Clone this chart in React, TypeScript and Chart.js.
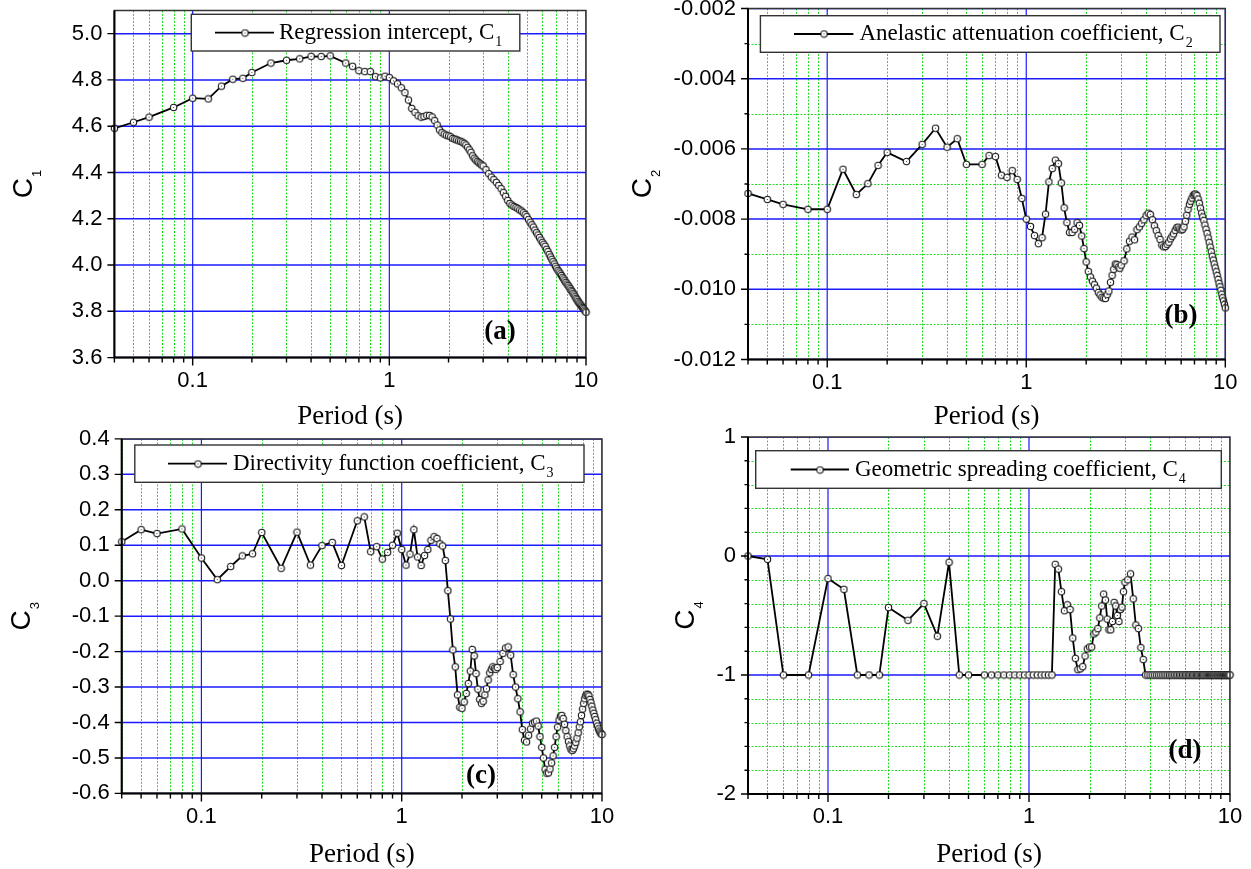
import React, { useEffect, useRef } from 'react';
import { Chart, registerables } from 'chart.js';

Chart.register(...registerables);

// ---------------- data ----------------
const PERIODS = [
  0.04, 0.05, 0.06, 0.08, 0.1, 0.12, 0.14, 0.16, 0.18, 0.2, 0.25, 0.3, 0.35, 0.4, 0.45, 0.5,
  0.6, 0.65, 0.7, 0.75, 0.8, 0.85, 0.9, 0.95, 1.0,
  1.05, 1.1, 1.15, 1.2, 1.25, 1.3, 1.35, 1.4, 1.45, 1.5, 1.55, 1.6, 1.65, 1.7, 1.75, 1.8, 1.85, 1.9, 1.95, 2.0,
  2.05, 2.1, 2.15, 2.2, 2.25, 2.3, 2.35, 2.4, 2.45, 2.5, 2.55, 2.6, 2.65, 2.7, 2.75, 2.8, 2.85, 2.9, 2.95, 3.0,
  3.1, 3.2, 3.3, 3.4, 3.5, 3.6, 3.7, 3.8, 3.9, 4.0,
  4.1, 4.2, 4.3, 4.4, 4.5, 4.6, 4.7, 4.8, 4.9, 5.0,
  5.1, 5.2, 5.3, 5.4, 5.5, 5.6, 5.7, 5.8, 5.9, 6.0,
  6.1, 6.2, 6.3, 6.4, 6.5, 6.6, 6.7, 6.8, 6.9, 7.0,
  7.1, 7.2, 7.3, 7.4, 7.5, 7.6, 7.7, 7.8, 7.9, 8.0,
  8.1, 8.2, 8.3, 8.4, 8.5, 8.6, 8.7, 8.8, 8.9, 9.0,
  9.1, 9.2, 9.3, 9.4, 9.5, 9.6, 9.7, 9.8, 9.9, 10.0,
];

const C1 = [
  4.591, 4.617, 4.639, 4.681, 4.721, 4.718, 4.773, 4.803, 4.807, 4.832, 4.873, 4.885, 4.891, 4.902, 4.901, 4.904,
  4.873, 4.859, 4.840, 4.836, 4.836, 4.814, 4.809, 4.816, 4.810,
  4.796, 4.783, 4.766, 4.745, 4.713, 4.677, 4.660, 4.645, 4.639, 4.642, 4.647, 4.646, 4.640, 4.624, 4.605, 4.584, 4.572, 4.566, 4.561, 4.558,
  4.554, 4.547, 4.544, 4.541, 4.537, 4.535, 4.531, 4.526, 4.519, 4.509, 4.498, 4.487, 4.472, 4.462, 4.454, 4.447, 4.442, 4.437, 4.432, 4.428,
  4.412, 4.395, 4.380, 4.369, 4.357, 4.344, 4.330, 4.313, 4.297, 4.279,
  4.266, 4.259, 4.253, 4.249, 4.244, 4.238, 4.233, 4.226, 4.218, 4.209,
  4.196, 4.185, 4.174, 4.164, 4.151, 4.140, 4.130, 4.119, 4.108, 4.098,
  4.090, 4.081, 4.068, 4.058, 4.046, 4.035, 4.025, 4.015, 4.005, 3.995,
  3.986, 3.977, 3.970, 3.962, 3.955, 3.947, 3.940, 3.932, 3.925, 3.918,
  3.912, 3.905, 3.898, 3.891, 3.885, 3.878, 3.871, 3.863, 3.856, 3.850,
  3.843, 3.837, 3.832, 3.827, 3.822, 3.817, 3.812, 3.806, 3.801, 3.796,
];

const C2 = [
  -0.00727, -0.00744, -0.00758, -0.00772, -0.00772, -0.00658, -0.0073, -0.00699, -0.00647, -0.0061, -0.00636, -0.00587, -0.00541, -0.00595, -0.00571, -0.00644,
  -0.00644, -0.00619, -0.00622, -0.00675, -0.00681, -0.00662, -0.00687, -0.00741, -0.008,
  -0.00821, -0.00847, -0.0087, -0.00853, -0.00786, -0.00694, -0.00656, -0.00632, -0.00642, -0.00697, -0.00768, -0.0081, -0.00838, -0.00838, -0.00829, -0.0081, -0.00818, -0.00848, -0.00884, -0.00922,
  -0.00949, -0.00965, -0.00977, -0.00987, -0.00997, -0.01009, -0.01016, -0.01023, -0.01025, -0.01026, -0.01015, -0.01005, -0.0098, -0.0096, -0.00943, -0.00928, -0.0093, -0.00937, -0.0094, -0.00931,
  -0.00919, -0.00885, -0.00863, -0.00851, -0.00859, -0.0083, -0.00822, -0.00812, -0.00802, -0.0079,
  -0.00783, -0.00787, -0.00802, -0.00819, -0.00833, -0.00847, -0.00858, -0.00874, -0.00879, -0.00878,
  -0.00872, -0.00866, -0.00856, -0.00849, -0.00842, -0.00832, -0.00824, -0.00823, -0.00828, -0.00831,
  -0.00829, -0.00822, -0.00806, -0.00789, -0.00772, -0.00758, -0.00749, -0.0074, -0.00732, -0.00729,
  -0.00729, -0.00733, -0.00743, -0.00755, -0.00769, -0.00783, -0.00794, -0.00804, -0.00817, -0.00829,
  -0.00841, -0.00854, -0.00867, -0.0088, -0.00893, -0.00906, -0.00917, -0.00928, -0.00939, -0.0095,
  -0.00961, -0.00972, -0.00983, -0.00993, -0.01003, -0.01014, -0.01024, -0.01033, -0.01043, -0.01053,
];

const C3 = [
  0.110, 0.144, 0.133, 0.146, 0.064, 0.003, 0.040, 0.070, 0.076, 0.136, 0.035, 0.137, 0.044, 0.099, 0.108, 0.043,
  0.169, 0.180, 0.082, 0.096, 0.061, 0.080, 0.100, 0.134, 0.088,
  0.044, 0.075, 0.144, 0.067, 0.043, 0.071, 0.088, 0.114, 0.124, 0.119, 0.104, 0.098, 0.057, -0.028, -0.108, -0.195, -0.243, -0.322, -0.357, -0.360,
  -0.342, -0.318, -0.290, -0.255, -0.194, -0.212, -0.262, -0.306, -0.335, -0.346, -0.340, -0.322, -0.305, -0.280, -0.260, -0.250, -0.243, -0.247, -0.250, -0.245,
  -0.228, -0.205, -0.190, -0.187, -0.210, -0.265, -0.300, -0.333, -0.370, -0.420,
  -0.450, -0.455, -0.436, -0.418, -0.402, -0.399, -0.396, -0.410, -0.440, -0.470,
  -0.500, -0.532, -0.543, -0.542, -0.531, -0.514, -0.494, -0.470, -0.440, -0.413,
  -0.393, -0.382, -0.380, -0.389, -0.405, -0.423, -0.440, -0.454, -0.466, -0.476,
  -0.479, -0.474, -0.466, -0.456, -0.444, -0.429, -0.412, -0.398, -0.380, -0.362,
  -0.346, -0.333, -0.324, -0.320, -0.321, -0.325, -0.335, -0.344, -0.354, -0.365,
  -0.374, -0.383, -0.392, -0.402, -0.410, -0.418, -0.424, -0.429, -0.432, -0.434,
];

const C4 = [
  0.0, -0.028, -1, -1, -0.19, -0.28, -1, -1, -1, -0.433, -0.54, -0.40, -0.674, -0.053, -1, -1,
  -1, -1, -1, -1, -1, -1, -1, -1, -1,
  -1, -1, -1, -1, -1, -1, -0.07, -0.11, -0.30, -0.46, -0.41, -0.45, -0.69, -0.86, -0.955, -0.948, -0.93, -0.84, -0.78, -0.765,
  -0.765, -0.655, -0.64, -0.61, -0.52, -0.42, -0.32, -0.37, -0.53, -0.62, -0.62, -0.55, -0.39, -0.42, -0.50, -0.55, -0.45, -0.43, -0.30, -0.22,
  -0.20, -0.15, -0.36, -0.58, -0.61, -0.77, -0.87, -1, -1, -1,
  -1, -1, -1, -1, -1, -1, -1, -1, -1, -1,
  -1, -1, -1, -1, -1, -1, -1, -1, -1, -1,
  -1, -1, -1, -1, -1, -1, -1, -1, -1, -1,
  -1, -1, -1, -1, -1, -1, -1, -1, -1, -1,
  -1, -1, -1, -1, -1, -1, -1, -1, -1, -1,
  -1, -1, -1, -1, -1, -1, -1, -1, -1, -1,
];

// tick values
const X_LABEL_TICKS = [0.1, 1, 10];
const X_MINOR = [0.04, 0.05, 0.06, 0.07, 0.08, 0.09, 0.2, 0.3, 0.4, 0.5, 0.6, 0.7, 0.8, 0.9, 2, 3, 4, 5, 6, 7, 8, 9];
const Y_TICKS_A = [3.6, 3.8, 4.0, 4.2, 4.4, 4.6, 4.8, 5.0];
const Y_TICKS_B = [-0.012, -0.010, -0.008, -0.006, -0.004, -0.002];
const Y_MINOR_B = [-0.011, -0.009, -0.007, -0.005, -0.003];
const Y_TICKS_C = [-0.6, -0.5, -0.4, -0.3, -0.2, -0.1, 0.0, 0.1, 0.2, 0.3, 0.4];
const Y_TICKS_D = [-2, -1, 0, 1];
const Y_MINOR_D = [-1.8, -1.6, -1.4, -1.2, -0.8, -0.6, -0.4, -0.2, 0.2, 0.4, 0.6, 0.8];

const X_TITLE = 'Period (s)';

// ---------------- styles ----------------
const SANS = '"Liberation Sans", Arial, Helvetica, sans-serif';
const SERIF = '"Liberation Serif", "Times New Roman", Times, serif';
const BLUE = '#1a1aff';
const GREEN = '#22dd22';
const X_AXIS_H = 45;

type Panel = {
  key: string;
  data: number[];
  yMin: number;
  yMax: number;
  yTicks: number[];
  yMinor: number[];
  decimals: number;
  canvas: { left: number; top: number; width: number; height: number };
  plot: { left: number; top: number; right: number; bottom: number };
  legend: { box: number[]; line: number[]; textX: number; text: string; sub: string };
  yTitle: { x: number; sub: string };
  tag: { text: string; x: number; y: number };
  xTitleY: number;
};

const PANELS: Panel[] = [
  {
    key: 'a', data: C1, yMin: 3.6, yMax: 5.1, yTicks: Y_TICKS_A, yMinor: [], decimals: 1,
    canvas: { left: 0, top: 0, width: 625, height: 440 },
    plot: { left: 114.4, top: 10.5, right: 586, bottom: 357.6 },
    legend: { box: [191.3, 14.3, 519.8, 51], line: [215, 274], textX: 279, text: 'Regression intercept, C', sub: '1' },
    yTitle: { x: 31.7, sub: '1' },
    tag: { text: '(a)', x: 500, y: 332 },
    xTitleY: 417,
  },
  {
    key: 'b', data: C2, yMin: -0.012, yMax: -0.002, yTicks: Y_TICKS_B, yMinor: Y_MINOR_B, decimals: 3,
    canvas: { left: 625, top: 0, width: 626, height: 440 },
    plot: { left: 748, top: 8.5, right: 1225.3, bottom: 359.5 },
    legend: { box: [760.4, 15.7, 1220, 52.3], line: [794, 853.4], textX: 859.4, text: 'Anelastic attenuation coefficient, C', sub: '2' },
    yTitle: { x: 650.5, sub: '2' },
    tag: { text: '(b)', x: 1181, y: 316 },
    xTitleY: 417,
  },
  {
    key: 'c', data: C3, yMin: -0.6, yMax: 0.4, yTicks: Y_TICKS_C, yMinor: [], decimals: 1,
    canvas: { left: 0, top: 425, width: 625, height: 444 },
    plot: { left: 121.7, top: 438.9, right: 602, bottom: 793.4 },
    legend: { box: [134.8, 445, 584, 482.3], line: [168, 227], textX: 233, text: 'Directivity function coefficient, C', sub: '3' },
    yTitle: { x: 30, sub: '3' },
    tag: { text: '(c)', x: 481, y: 776 },
    xTitleY: 855,
  },
  {
    key: 'd', data: C4, yMin: -2, yMax: 1, yTicks: Y_TICKS_D, yMinor: Y_MINOR_D, decimals: 0,
    canvas: { left: 625, top: 425, width: 626, height: 444 },
    plot: { left: 748, top: 437, right: 1230, bottom: 794 },
    legend: { box: [755.7, 450.7, 1221.3, 488.3], line: [790.7, 849], textX: 855, text: 'Geometric spreading coefficient, C', sub: '4' },
    yTitle: { x: 694, sub: '4' },
    tag: { text: '(d)', x: 1185, y: 751 },
    xTitleY: 855,
  },
];

function makeMarker(): HTMLCanvasElement {
  const m = document.createElement('canvas');
  m.width = 9;
  m.height = 9;
  const c = m.getContext('2d')!;
  c.beginPath();
  c.arc(4.5, 4.5, 3.2, 0, Math.PI * 2);
  c.fillStyle = '#ffffff';
  c.fill();
  c.lineWidth = 1.1;
  c.strokeStyle = '#111';
  c.stroke();
  c.fillStyle = '#444';
  c.fillRect(4, 4, 1, 1);
  return m;
}

function makePlugin(p: Panel) {
  return {
    id: 'panelDecor_' + p.key,
    beforeDatasetsDraw(chart: any) {
      const { ctx, chartArea: a, scales } = chart;
      const xs = scales.x;
      const ys = scales.y;
      ctx.save();
      ctx.beginPath();
      ctx.rect(a.left, a.top, a.right - a.left, a.bottom - a.top);
      ctx.clip();
      // minor grid (green dotted)
      ctx.strokeStyle = GREEN;
      ctx.lineWidth = 1;
      ctx.setLineDash([2, 1.5]);
      ctx.beginPath();
      for (const v of X_MINOR) {
        const px = Math.round(xs.getPixelForValue(v)) + 0.5;
        ctx.moveTo(px, a.top);
        ctx.lineTo(px, a.bottom);
      }
      for (const v of p.yMinor) {
        const py = Math.round(ys.getPixelForValue(v)) + 0.5;
        ctx.moveTo(a.left, py);
        ctx.lineTo(a.right, py);
      }
      ctx.stroke();
      ctx.setLineDash([]);
      // major grid (blue)
      ctx.strokeStyle = BLUE;
      ctx.lineWidth = 1.2;
      ctx.beginPath();
      for (const v of X_LABEL_TICKS) {
        const px = xs.getPixelForValue(v);
        ctx.moveTo(px, a.top);
        ctx.lineTo(px, a.bottom);
      }
      ctx.stroke();
      ctx.lineWidth = 1.5;
      ctx.beginPath();
      for (const v of p.yTicks) {
        const py = ys.getPixelForValue(v);
        ctx.moveTo(a.left, py);
        ctx.lineTo(a.right, py);
      }
      ctx.stroke();
      ctx.restore();
    },
    afterDatasetsDraw(chart: any) {
      const { ctx, chartArea: a, scales } = chart;
      const xs = scales.x;
      const ys = scales.y;
      const ox = p.canvas.left;
      const oy = p.canvas.top;
      ctx.save();
      // frame
      ctx.lineWidth = 1.5;
      ctx.strokeStyle = '#333';
      ctx.strokeRect(a.left, a.top, a.right - a.left, a.bottom - a.top);
      ctx.strokeStyle = '#000';
      ctx.lineWidth = 2;
      ctx.beginPath();
      ctx.moveTo(a.left, a.top);
      ctx.lineTo(a.left, a.bottom);
      ctx.lineTo(a.right, a.bottom);
      ctx.stroke();
      // tick marks
      ctx.lineWidth = 1.4;
      ctx.beginPath();
      for (const v of p.yTicks) {
        const py = ys.getPixelForValue(v);
        ctx.moveTo(a.left - 7, py);
        ctx.lineTo(a.left, py);
      }
      for (const v of p.yMinor) {
        const py = ys.getPixelForValue(v);
        ctx.moveTo(a.left - 3.5, py);
        ctx.lineTo(a.left, py);
      }
      for (const v of X_LABEL_TICKS) {
        const px = xs.getPixelForValue(v);
        ctx.moveTo(px, a.bottom);
        ctx.lineTo(px, a.bottom + 8);
      }
      for (const v of X_MINOR) {
        const px = xs.getPixelForValue(v);
        ctx.moveTo(px, a.bottom);
        ctx.lineTo(px, a.bottom + 5);
      }
      ctx.stroke();

      // legend box
      const [bx1, by1, bx2, by2] = p.legend.box;
      ctx.fillStyle = '#ffffff';
      ctx.fillRect(bx1 - ox, by1 - oy, bx2 - bx1, by2 - by1);
      ctx.strokeStyle = '#333';
      ctx.lineWidth = 1.4;
      ctx.strokeRect(bx1 - ox, by1 - oy, bx2 - bx1, by2 - by1);
      const cy = (by1 + by2) / 2 - oy;
      const [l1, l2] = p.legend.line;
      ctx.strokeStyle = '#000';
      ctx.lineWidth = 1.8;
      ctx.beginPath();
      ctx.moveTo(l1 - ox, cy);
      ctx.lineTo(l2 - ox, cy);
      ctx.stroke();
      const mx = (l1 + l2) / 2 - ox;
      ctx.drawImage(MARKER, Math.round(mx) - 4.5, Math.round(cy) - 4.5);
      ctx.fillStyle = '#000';
      ctx.textAlign = 'left';
      ctx.textBaseline = 'alphabetic';
      ctx.font = `23px ${SERIF}`;
      const base = cy + 6;
      ctx.fillText(p.legend.text, p.legend.textX - ox, base);
      const tw = ctx.measureText(p.legend.text).width;
      ctx.font = `14px ${SERIF}`;
      ctx.fillText(p.legend.sub, p.legend.textX - ox + tw + 1, base + 7);

      // panel tag
      ctx.font = `bold 27px ${SERIF}`;
      ctx.textAlign = 'center';
      ctx.textBaseline = 'middle';
      ctx.fillText(p.tag.text, p.tag.x - ox, p.tag.y - oy);

      // x title
      ctx.font = `27px ${SERIF}`;
      ctx.fillText(X_TITLE, (a.left + a.right) / 2, p.xTitleY - oy);

      // y title
      ctx.translate(p.yTitle.x - ox, (a.top + a.bottom) / 2);
      ctx.rotate(-Math.PI / 2);
      ctx.textAlign = 'left';
      ctx.textBaseline = 'alphabetic';
      ctx.font = `28px ${SANS}`;
      const wc = ctx.measureText('C').width;
      ctx.font = `13px ${SANS}`;
      const ws = ctx.measureText(p.yTitle.sub).width;
      const start = -(wc + 1 + ws) / 2;
      ctx.font = `28px ${SANS}`;
      ctx.fillText('C', start, 0);
      ctx.font = `13px ${SANS}`;
      ctx.fillText(p.yTitle.sub, start + wc + 1, 9);
      ctx.restore();
    },
  };
}

let MARKER: HTMLCanvasElement;

function buildConfig(p: Panel): any {
  if (!MARKER) MARKER = makeMarker();
  const yW = p.plot.left - p.canvas.left;
  const padTop = p.plot.top - p.canvas.top;
  const padRight = p.canvas.left + p.canvas.width - p.plot.right;
  const padBottom = p.canvas.top + p.canvas.height - p.plot.bottom - X_AXIS_H;
  return {
    type: 'scatter',
    data: {
      datasets: [
        {
          data: PERIODS.map((x, i) => ({ x, y: p.data[i] })),
          showLine: true,
          borderColor: '#000',
          borderWidth: 1.8,
          pointStyle: MARKER,
          pointRadius: 4,
          pointHoverRadius: 4,
          tension: 0,
          clip: false,
        },
      ],
    },
    options: {
      responsive: false,
      maintainAspectRatio: false,
      animation: false,
      devicePixelRatio: 1,
      events: [],
      layout: { padding: { left: 0, top: padTop, right: padRight, bottom: padBottom } },
      plugins: {
        legend: { display: false },
        title: { display: false },
        tooltip: { enabled: false },
      },
      scales: {
        x: {
          type: 'logarithmic',
          position: 'bottom',
          min: 0.04,
          max: 10,
          afterBuildTicks: (s: any) => {
            s.ticks = X_LABEL_TICKS.map((v) => ({ value: v, major: true }));
          },
          afterFit: (s: any) => {
            s.height = X_AXIS_H;
            s.paddingLeft = 0;
            s.paddingRight = 0;
          },
          ticks: {
            autoSkip: false,
            maxRotation: 0,
            minRotation: 0,
            color: '#000',
            padding: 2,
            font: { family: SANS, size: 22 },
            callback: (v: any) => String(Number(v)),
          },
          grid: { display: true, drawOnChartArea: false, drawTicks: true, tickLength: 8, lineWidth: 0, tickWidth: 0 },
          border: { display: false },
        },
        y: {
          type: 'linear',
          position: 'left',
          min: p.yMin,
          max: p.yMax,
          afterBuildTicks: (s: any) => {
            s.ticks = p.yTicks.map((v) => ({ value: v }));
          },
          afterFit: (s: any) => {
            s.width = yW;
            s.paddingTop = 0;
            s.paddingBottom = 0;
          },
          ticks: {
            autoSkip: false,
            color: '#000',
            padding: 5,
            font: { family: SANS, size: 22 },
            callback: (v: any) => Number(v).toFixed(p.decimals),
          },
          grid: { display: true, drawOnChartArea: false, drawTicks: true, tickLength: 7, lineWidth: 0, tickWidth: 0 },
          border: { display: false },
        },
      },
    },
    plugins: [makePlugin(p)],
  };
}

function PanelChart({ p }: { p: Panel }) {
  const ref = useRef<HTMLCanvasElement>(null);
  useEffect(() => {
    if (!ref.current) return;
    const chart = new Chart(ref.current, buildConfig(p));
    return () => chart.destroy();
  }, [p]);
  return (
    <canvas
      ref={ref}
      width={p.canvas.width}
      height={p.canvas.height}
      style={{
        position: 'absolute',
        left: p.canvas.left,
        top: p.canvas.top,
        width: p.canvas.width,
        height: p.canvas.height,
      }}
    />
  );
}

export default function App() {
  return (
    <div style={{ position: 'absolute', left: 0, top: 0, width: 1251, height: 869, background: '#ffffff' }}>
      {PANELS.map((p) => (
        <PanelChart key={p.key} p={p} />
      ))}
    </div>
  );
}
